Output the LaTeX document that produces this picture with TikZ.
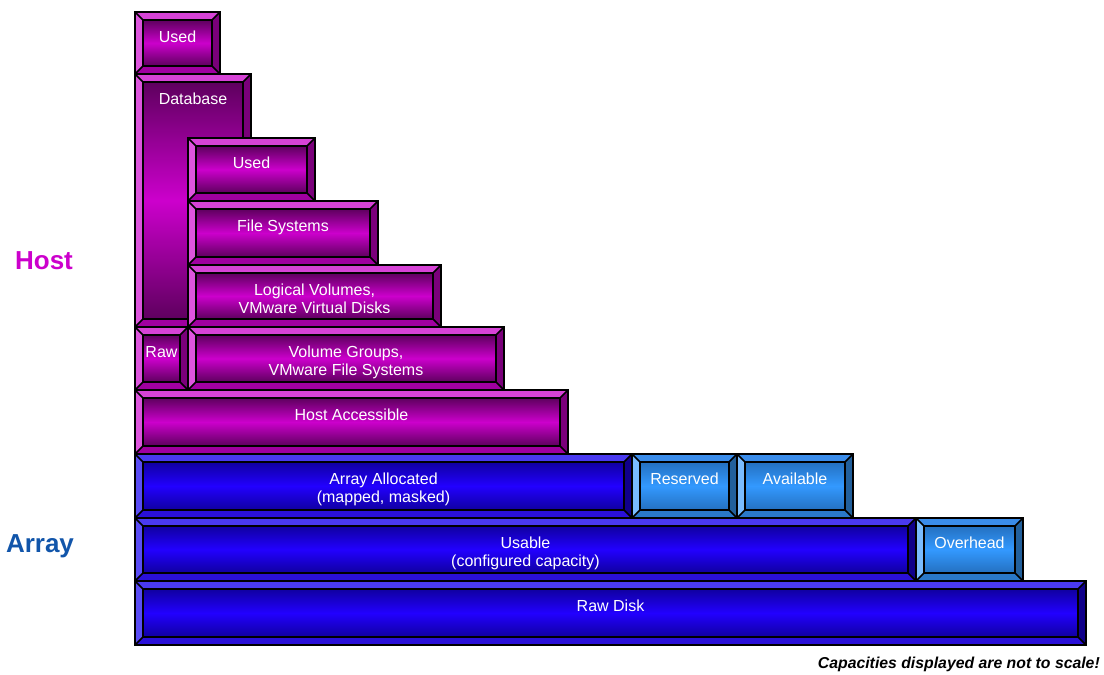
\documentclass[tikz,border=0pt]{standalone}
\usepackage{fontspec}
\setmainfont{Liberation Sans}
\definecolor{magT}{HTML}{D643D6}
\definecolor{magL}{HTML}{DD55DD}
\definecolor{magR}{HTML}{7A007A}
\definecolor{magB}{HTML}{A000A0}
\definecolor{magE}{HTML}{5E005E}
\definecolor{magM}{HTML}{CC00CC}
\definecolor{bluT}{HTML}{4A3AF0}
\definecolor{bluL}{HTML}{5A4CF5}
\definecolor{bluR}{HTML}{10008A}
\definecolor{bluB}{HTML}{2A10D8}
\definecolor{bluE}{HTML}{1000A0}
\definecolor{bluM}{HTML}{2200FF}
\definecolor{ltbT}{HTML}{3A8CEA}
\definecolor{ltbL}{HTML}{7ABCFF}
\definecolor{ltbR}{HTML}{22609C}
\definecolor{ltbB}{HTML}{2A78C8}
\definecolor{ltbE}{HTML}{2470C0}
\definecolor{ltbM}{HTML}{3399FF}
\definecolor{hostc}{HTML}{CC00CC}
\definecolor{arrayc}{HTML}{1155AA}
\tikzset{
  bev/.style={draw=black,line width=1.5pt,line join=miter},
  lbl/.style={text=white,font=\fontsize{16}{18}\selectfont,align=center,anchor=north,inner sep=0pt},
  side/.style={font=\bfseries\fontsize{26}{28}\selectfont}
}
% name, x1, y1, x2, y2, palette, text
\newcommand\bevbox[7]{%
  \fill[#6T] (#2,#3) -- (#4,#3) -- ({#4-8},{#3+8}) -- ({#2+8},{#3+8}) -- cycle;
  \fill[#6L] (#2,#3) -- ({#2+8},{#3+8}) -- ({#2+8},{#5-8}) -- (#2,#5) -- cycle;
  \fill[#6R] (#4,#3) -- (#4,#5) -- ({#4-8},{#5-8}) -- ({#4-8},{#3+8}) -- cycle;
  \fill[#6B] (#2,#5) -- (#4,#5) -- ({#4-8},{#5-8}) -- ({#2+8},{#5-8}) -- cycle;
  \path[top color=#6E,bottom color=#6E,middle color=#6M] ({#2+8},{#3+8}) rectangle ({#4-8},{#5-8});
  \coordinate (#1-nw) at (#2,#3);
  \coordinate (#1-se) at (#4,#5);
  \draw[bev] (#1-nw) rectangle (#1-se);
  \draw[bev] ({#2+8},{#3+8}) rectangle ({#4-8},{#5-8});
  \draw[bev] (#1-nw) -- ({#2+8},{#3+8});
  \draw[bev] (#4,#3) -- ({#4-8},{#3+8});
  \draw[bev] (#2,#5) -- ({#2+8},{#5-8});
  \draw[bev] (#4,#5) -- ({#4-8},{#5-8});
  \node[lbl] (#1) at ({(#2+#4)/2},{#3+19}) {#7};
}
\begin{document}
\begin{tikzpicture}[x=1pt,y=-1pt]
\useasboundingbox (0,0) rectangle (1104,675);
\bevbox{used1}{135}{12}{220}{74}{mag}{Used}
\bevbox{db}{135}{74}{251}{327}{mag}{Database}
\bevbox{used2}{188}{138}{315}{201}{mag}{Used}
\bevbox{fs}{188}{201}{378}{265}{mag}{File Systems}
\bevbox{lv}{188}{265}{441}{327}{mag}{Logical Volumes,\\VMware Virtual Disks}
\bevbox{raw}{135}{327}{188}{390}{mag}{Raw}
\bevbox{vg}{188}{327}{504}{390}{mag}{Volume Groups,\\VMware File Systems}
\bevbox{ha}{135}{390}{568}{454}{mag}{Host Accessible}
\bevbox{aa}{135}{454}{632}{518}{blu}{Array Allocated\\(mapped, masked)}
\bevbox{res}{632}{454}{737}{518}{ltb}{Reserved}
\bevbox{avail}{737}{454}{853}{518}{ltb}{Available}
\bevbox{usable}{135}{518}{916}{581}{blu}{Usable\\(configured capacity)}
\bevbox{ovh}{916}{518}{1023}{581}{ltb}{Overhead}
\bevbox{rawdisk}{135}{581}{1086}{645}{blu}{Raw Disk}
\node[side,text=hostc] (host) at (44,261) {Host};
\node[side,text=arrayc] (array) at (40,546) {Array};
\node[font=\bfseries\itshape\fontsize{15.8}{17}\selectfont,anchor=east,inner sep=0pt] (note) at (1100,664) {Capacities displayed are not to scale!};
\end{tikzpicture}
\end{document}
